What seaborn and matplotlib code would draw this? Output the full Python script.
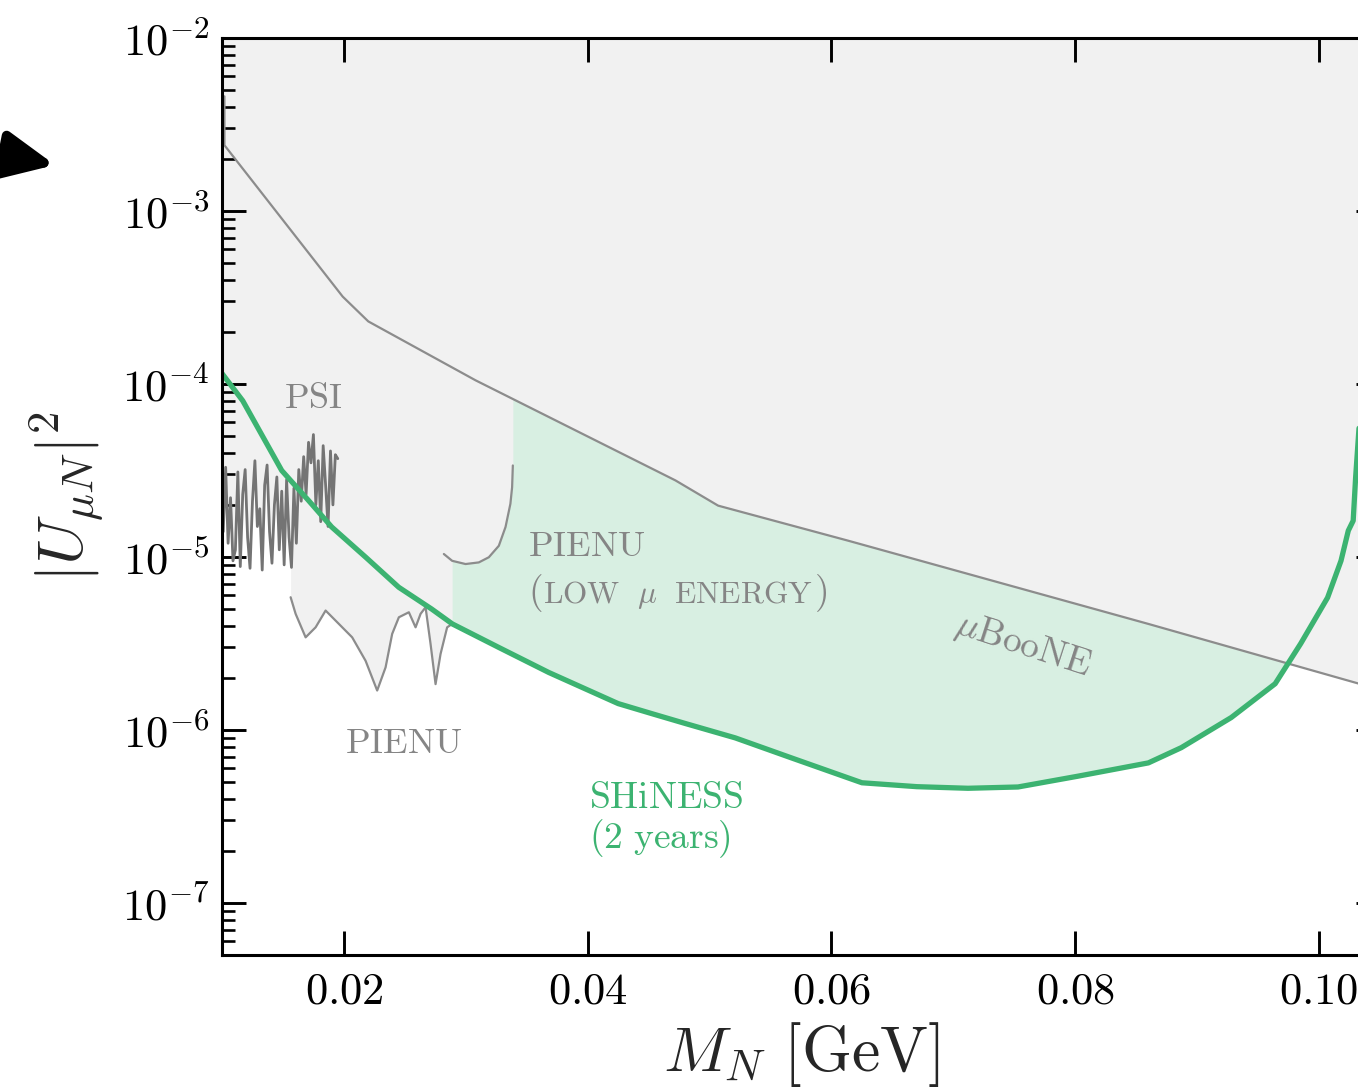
import numpy as np
import matplotlib
matplotlib.use("Agg")
import matplotlib.pyplot as plt
import seaborn as sns
from matplotlib.ticker import FixedLocator, FuncFormatter, LogLocator, NullLocator, NullFormatter
from matplotlib.patches import FancyArrowPatch

sns.set_style("white")
plt.rcParams.update({
    "mathtext.fontset": "cm",
    "font.family": ["DejaVu Serif"],
    "axes.unicode_minus": True,
    "axes.axisbelow": False,
    "xtick.bottom": True,
    "ytick.left": True,
})

# ---------------- data ----------------
# MicroBooNE limit
mub_x = [0.0102, 0.0102, 0.0199, 0.0220, 0.0308, 0.0472, 0.0507, 0.0614, 0.0860, 0.1050]
mub_y = [4.6e-3, 2.4e-3, 3.2e-4, 2.3e-4, 1.05e-4, 2.77e-5, 1.98e-5, 1.24e-5, 4.1e-6, 1.71e-6]

# PSI limit (noisy)
psi_x = [0.0101, 0.0103, 0.0105, 0.0107, 0.0109, 0.0111, 0.0113, 0.0115, 0.0117, 0.0119,
         0.0121, 0.0123, 0.0125, 0.0127, 0.0129, 0.0131, 0.0133, 0.0135, 0.0137, 0.0139,
         0.0141, 0.0143, 0.0145, 0.0147, 0.0149, 0.0151, 0.0153, 0.0155, 0.0157, 0.0159,
         0.0161, 0.0163, 0.0165, 0.0167, 0.0169, 0.0171, 0.0173, 0.0175, 0.0177, 0.0179,
         0.0181, 0.0183, 0.0185, 0.0187, 0.0189, 0.0191, 0.0193, 0.0195]
psi_y = [1.4e-5, 3.3e-5, 1.2e-5, 2.2e-5, 0.95e-5, 1.1e-5, 3.1e-5, 0.88e-5, 2.3e-5, 3.2e-5,
         1.3e-5, 0.86e-5, 2.1e-5, 3.6e-5, 1.5e-5, 1.9e-5, 0.84e-5, 2.6e-5, 3.4e-5, 1.4e-5,
         0.92e-5, 2.0e-5, 2.9e-5, 1.1e-5, 2.4e-5, 0.9e-5, 2.8e-5, 1.3e-5, 0.87e-5, 2.5e-5,
         1.2e-5, 3.2e-5, 2.1e-5, 3.8e-5, 2.3e-5, 4.6e-5, 3.5e-5, 5.1e-5, 2.0e-5, 3.6e-5,
         1.6e-5, 4.4e-5, 2.6e-5, 1.5e-5, 4.1e-5, 2.0e-5, 3.9e-5, 3.7e-5]

# PIENU limit
pienu_x = [0.01563, 0.01604, 0.01686, 0.01768, 0.01850, 0.01959, 0.02068, 0.02178, 0.02273,
           0.02342, 0.02396, 0.02451, 0.02533, 0.02588, 0.02629, 0.02670, 0.02711, 0.02752,
           0.02793, 0.02847, 0.02888]
pienu_y = [5.85e-6, 4.69e-6, 3.43e-6, 3.92e-6, 4.9e-6, 4.1e-6, 3.43e-6, 2.51e-6, 1.69e-6,
           2.3e-6, 3.59e-6, 4.48e-6, 4.79e-6, 3.92e-6, 4.69e-6, 5.12e-6, 3.14e-6, 1.84e-6,
           2.75e-6, 3.92e-6, 4.1e-6]

# PIENU (low muon energy)
low_x = [0.0282, 0.02888, 0.02998, 0.03107, 0.03189, 0.03271, 0.03326, 0.03366, 0.0338, 0.03386]
low_y = [1.04e-5, 9.5e-6, 9.1e-6, 9.3e-6, 9.96e-6, 1.16e-5, 1.49e-5, 2.03e-5, 2.53e-5, 3.38e-5]

# SHiNESS sensitivity (2 years)
shi_x = [0.0100, 0.0117, 0.0149, 0.0171, 0.0190, 0.0218, 0.0245, 0.0272, 0.0289, 0.0327,
         0.0368, 0.0425, 0.0453, 0.0480, 0.0521, 0.0567, 0.0625, 0.0670, 0.0712, 0.0753,
         0.0802, 0.0860, 0.0887, 0.0928, 0.0964, 0.0985, 0.1007, 0.1018, 0.1024, 0.1028,
         0.1030, 0.1045]
shi_y = [1.15e-4, 8.0e-5, 3.16e-5, 2.12e-5, 1.49e-5, 9.95e-6, 6.68e-6, 5.0e-6, 4.1e-6, 3.0e-6,
         2.15e-6, 1.42e-6, 1.24e-6, 1.09e-6, 9.0e-7, 6.9e-7, 4.95e-7, 4.7e-7, 4.6e-7, 4.68e-7,
         5.4e-7, 6.45e-7, 7.9e-7, 1.18e-6, 1.85e-6, 3.16e-6, 5.82e-6, 9.5e-6, 1.42e-5, 1.62e-5,
         2.88e-5, 1.0e-3]

x_ticks = [0.02, 0.04, 0.06, 0.08, 0.10]
x_tick_labels = ["0.02", "0.04", "0.06", "0.08", "0.10"]

# ---------------- style ----------------
GREEN = "#3cb371"
GREY_FILL = "#f1f1f1"
GREY_LINE = "#8c8c8c"
GREY_PSI = "#747474"
GREY_TEXT = "#858585"

W, H = 1358, 1090
fig = plt.figure(figsize=(W / 100, H / 100), dpi=100)
ax = fig.add_axes([222 / W, 1 - 955 / H, (1380 - 222) / W, (955 - 38) / H])
ax.set_yscale("log")
ax.set_xlim(0.01, 0.105)
ax.set_ylim(5e-8, 1e-2)
ax.set_axisbelow(False)

# fills: green sensitivity region, then opaque grey excluded regions on top
ax.fill_between(shi_x, shi_y, 1, color=GREEN, alpha=0.2, lw=0, zorder=1)
for xs, ys in [(mub_x, mub_y), (psi_x, psi_y), (pienu_x, pienu_y), (low_x, low_y)]:
    ax.fill_between(xs, ys, 1, color=GREY_FILL, lw=0, zorder=2)

# lines
sns.lineplot(x=mub_x, y=mub_y, sort=False, estimator=None, ax=ax, color=GREY_LINE, lw=1.6, zorder=3)
sns.lineplot(x=psi_x, y=psi_y, sort=False, estimator=None, ax=ax, color=GREY_PSI, lw=2.0, zorder=3)
sns.lineplot(x=pienu_x, y=pienu_y, sort=False, estimator=None, ax=ax, color=GREY_LINE, lw=1.6, zorder=3)
sns.lineplot(x=low_x, y=low_y, sort=False, estimator=None, ax=ax, color=GREY_LINE, lw=1.6, zorder=3)
sns.lineplot(x=shi_x, y=shi_y, sort=False, estimator=None, ax=ax, color=GREEN, lw=3.8, zorder=4)

# ticks
ax.xaxis.set_major_locator(FixedLocator(x_ticks))
ax.xaxis.set_major_formatter(FuncFormatter(
    lambda v, p: r"$%s$" % x_tick_labels[p] if p is not None and p < len(x_tick_labels) else ""))
ax.xaxis.set_minor_locator(NullLocator())
ax.yaxis.set_major_locator(LogLocator(base=10, numticks=20))
ax.yaxis.set_minor_locator(LogLocator(base=10, subs=np.arange(2, 10), numticks=20))
ax.yaxis.set_major_formatter(FuncFormatter(lambda v, p: r"$10^{%d}$" % round(np.log10(v))))
ax.yaxis.set_minor_formatter(NullFormatter())
ax.tick_params(which="both", direction="in", top=True, right=True, bottom=True, left=True,
               colors="black")
ax.tick_params(which="major", length=17, width=2.1, labelsize=32)
ax.tick_params(which="minor", length=9, width=1.9)
ax.tick_params(axis="y", pad=9)
ax.tick_params(axis="x", pad=10)
for s in ax.spines.values():
    s.set_linewidth(2.2)
    s.set_color("black")
    s.set_zorder(6)

ax.set_xlabel(r"$M_N\ [\mathrm{GeV}]$", fontsize=46, labelpad=6)
ax.set_ylabel(r"$|U_{\mu N}|^2$", fontsize=46, labelpad=12)

# annotations
ax.text(0.01746, 8.3e-5, r"$\mathrm{PSI}$", color=GREY_TEXT, fontsize=26, ha="center", va="center", zorder=5)
ax.text(0.0249, 8.4e-7, r"$\mathrm{PIENU}$", color=GREY_TEXT, fontsize=26, ha="center", va="center", zorder=5)
ax.text(0.0351, 1.16e-5, r"$\mathrm{PIENU}$", color=GREY_TEXT, fontsize=26, ha="left", va="center", zorder=5)
t1 = ax.text(0.0351, 6.2e-6, r"$($", color=GREY_TEXT, fontsize=27, ha="left", va="center", zorder=5)
t2 = ax.annotate(r"$\mathrm{LOW}\ \ \mu\ \ \mathrm{ENERGY}$", xy=(1, 0.25), xycoords=t1,
                 xytext=(0.5, 0), textcoords="offset points", color=GREY_TEXT, fontsize=22.5,
                 ha="left", va="baseline", zorder=5)
ax.annotate(r"$)$", xy=(1, 0), xycoords=(t2, t1), xytext=(0.5, 0), textcoords="offset points",
            color=GREY_TEXT, fontsize=27, ha="left", va="bottom", zorder=5)
ax.text(0.0757, 3.07e-6, r"$\mu\mathrm{BooNE}$", color=GREY_TEXT, fontsize=27, rotation=-18,
        ha="center", va="center", rotation_mode="anchor", zorder=5)
ax.text(0.0401, 4.06e-7, r"$\mathrm{SHiNESS}$", color=GREEN, fontsize=27, ha="left", va="center", zorder=5)
ax.text(0.0401, 2.34e-7, r"$\mathrm{(2\ years)}$", color=GREEN, fontsize=27, ha="left", va="center", zorder=5)

# arrow at the upper left
arrow = FancyArrowPatch((-0.03, 1 - 146 / H), (55 / W, 1 - 165 / H), transform=fig.transFigure,
                        arrowstyle="-|>,head_length=3.0,head_width=1.4", mutation_scale=10,
                        lw=7, color="black", shrinkA=0, shrinkB=0)
fig.patches.append(arrow)

fig.savefig("out.png", dpi=100)
